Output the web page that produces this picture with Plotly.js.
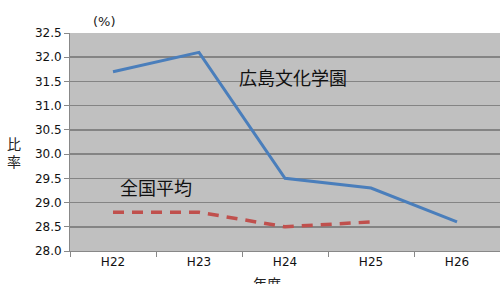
<!DOCTYPE html>
<html><head><meta charset="utf-8">
<script src="https://cdn.plot.ly/plotly-3.0.1.min.js"></script>
<style>html,body{margin:0;padding:0;background:#fff;}#chart{width:500px;height:284px;}</style>
</head><body><div id="chart"></div>
<script>
const categories = ["H22","H23","H24","H25","H26"];
const schoolValues = [31.7, 32.1, 29.5, 29.3, 28.6];
const nationalValues = [28.8, 28.8, 28.5, 28.6, null];
const yTicks = [28.0,28.5,29.0,29.5,30.0,30.5,31.0,31.5,32.0,32.5];
const yTickLabels = yTicks.map(v => v.toFixed(1));

const traces = [
  {x: categories, y: schoolValues, type: 'scatter', mode: 'lines', name: '広島文化学園',
   line: {color: '#4a7ebb', width: 3}},
  {x: categories, y: nationalValues, type: 'scatter', mode: 'lines', name: '全国平均',
   line: {color: '#c0504d', width: 3.5, dash: '11px,8px'}, connectgaps: false}
];
const layout = {
  width: 500, height: 284,
  margin: {l: 70, r: 0, t: 33, b: 33},
  paper_bgcolor: '#ffffff', plot_bgcolor: '#c0c0c0',
  showlegend: false,
  font: {family: 'DejaVu Sans, sans-serif', size: 12, color: '#111'},
  xaxis: {type: 'category', range: [-0.5, 4.5], tickson: 'boundaries', ticks: 'outside',
          ticklen: 5, tickcolor: '#888', showgrid: false, showline: true, linecolor: '#888',
          linewidth: 1, tickfont: {size: 12, color: '#111'}, zeroline: false},
  yaxis: {range: [28.0, 32.5], tickvals: yTicks, ticktext: yTickLabels, ticks: 'outside',
          ticklen: 5, tickcolor: '#888', showgrid: true, gridcolor: '#848484', gridwidth: 1.5,
          showline: true, linecolor: '#888', linewidth: 1, zeroline: false,
          tickfont: {size: 12, color: '#111'}},
  annotations: [
    {text: '(%)', xref: 'paper', yref: 'paper', x: (104-70)/430, y: (251-21)/218, showarrow: false,
     font: {size: 13, color: '#222'}, xanchor: 'center', yanchor: 'middle'},
    {text: '比<br>率', xref: 'paper', yref: 'paper', x: (14-70)/430, y: (251-152)/218, showarrow: false,
     font: {size: 14, family: 'Noto Sans CJK JP', color: '#222'}, xanchor: 'center', yanchor: 'middle'},
    {text: '年度', xref: 'paper', yref: 'paper', x: (267-70)/430, y: (251-283)/218, showarrow: false,
     font: {size: 14, family: 'Noto Sans CJK JP', color: '#222'}, xanchor: 'center', yanchor: 'middle'},
    {text: '広島文化学園', xref: 'paper', yref: 'paper', x: (237-70)/430, y: (251-77)/218, showarrow: false,
     font: {size: 18, family: 'Noto Sans CJK JP', color: '#111'}, xanchor: 'left', yanchor: 'middle'},
    {text: '全国平均', xref: 'paper', yref: 'paper', x: (118-70)/430, y: (251-187)/218, showarrow: false,
     font: {size: 18, family: 'Noto Sans CJK JP', color: '#111'}, xanchor: 'left', yanchor: 'middle'}
  ]
};
Plotly.newPlot('chart', traces, layout, {displayModeBar: false, staticPlot: true});
</script></body></html>
